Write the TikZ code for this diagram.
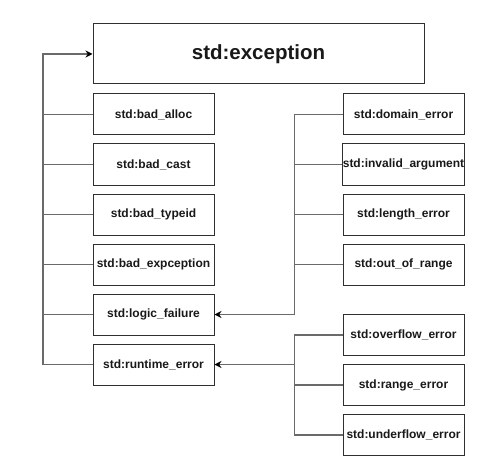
\documentclass[tikz,border=0pt]{standalone}
\usepackage{fontspec}
\setmainfont{Liberation Sans}
\usepackage{tikz}
\usetikzlibrary{positioning,calc,arrows.meta}
\tikzset{>={Stealth[length=7pt,width=7pt,color=black]}}
\definecolor{boxline}{HTML}{303030}
\definecolor{busline}{HTML}{6A6A6A}
\tikzset{
  errbox/.style={draw=boxline,line width=1pt,fill=white,minimum width=121pt,
    minimum height=41pt,inner sep=0pt,font=\fontsize{12}{14}\selectfont\bfseries,
    text=black!90},
  bus/.style={draw=busline,line width=1.4pt}
}

\begin{document}
\begin{tikzpicture}[x=1pt,y=1pt,node distance=8pt]
\useasboundingbox[fill=white] (0,0) rectangle (478,464);
\node[errbox,minimum width=331pt,minimum height=60pt,
  font=\fontsize{20.5}{24}\selectfont\bfseries] (exc) at (258.5,410) {std:exception};
% left column
\node[errbox] (alloc) at (153.5,349.5) {std:bad\_alloc};
\node[errbox,below=of alloc] (cast) {std:bad\_cast};
\node[errbox,below=of cast] (typeid) {std:bad\_typeid};
\node[errbox,below=of typeid] (bexc) {std:bad\_expception};
\node[errbox,below=of bexc] (logic) {std:logic\_failure};
\node[errbox,below=of logic] (rt) {std:runtime\_error};
% logic errors
\node[errbox] (dom) at (403.5,349.5) {std:domain\_error};
\node[errbox,below=of dom] (inv) {std:invalid\_argument};
\node[errbox,below=of inv] (len) {std:length\_error};
\node[errbox,below=of len] (oor) {std:out\_of\_range};
% runtime errors
\node[errbox] (ovf) at (403.5,129) {std:overflow\_error};
\node[errbox,below=of ovf] (rng) {std:range\_error};
\node[errbox,below=of rng] (unf) {std:underflow\_error};
% buses
\coordinate (lbus) at (43,410);
\coordinate (ubus) at ($(logic.east)+(80,0)$);
\coordinate (dbus) at ($(rt.east)+(80,0)$);
\draw[bus,->] (rt.west) -| (lbus) -- (exc.west);
\foreach \n in {alloc,cast,typeid,bexc,logic} {
  \draw[bus] (\n.west) -- (\n.west -| lbus);
}
\draw[bus,->] (dom.west) -| (ubus) -- (logic.east);
\foreach \n in {inv,len,oor} {
  \draw[bus] (\n.west) -- (\n.west -| ubus);
}
\draw[bus] (ovf.west) -| (dbus) |- (unf.west);
\draw[bus] (rng.west) -- (rng.west -| dbus);
\draw[bus,->] (dbus) -- (rt.east);
\end{tikzpicture}
\end{document}
